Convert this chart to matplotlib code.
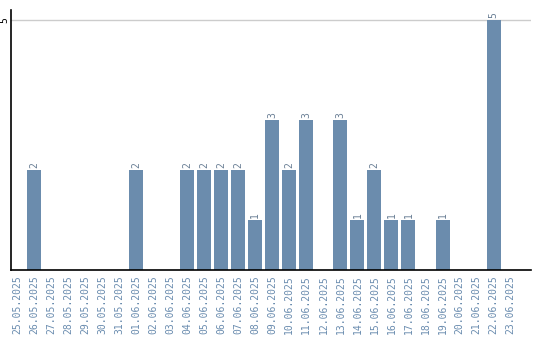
import matplotlib.pyplot as plt
import numpy as np

dates = ["25.05.2025", "26.05.2025", "27.05.2025", "28.05.2025", "29.05.2025",
         "30.05.2025", "31.05.2025", "01.06.2025", "02.06.2025", "03.06.2025",
         "04.06.2025", "05.06.2025", "06.06.2025", "07.06.2025", "08.06.2025",
         "09.06.2025", "10.06.2025", "11.06.2025", "12.06.2025", "13.06.2025",
         "14.06.2025", "15.06.2025", "16.06.2025", "17.06.2025", "18.06.2025",
         "19.06.2025", "20.06.2025", "21.06.2025", "22.06.2025", "23.06.2025"]
counts = [0, 2, 0, 0, 0, 0, 0, 2, 0, 0,
          2, 2, 2, 2, 1, 3, 2, 3, 0, 3,
          1, 2, 1, 1, 0, 1, 0, 0, 5, 0]

bar_color = "#6b8cad"
label_color = "#6a8caf"

fig = plt.figure(figsize=(5.4, 3.4), dpi=100)
ax = fig.add_axes([0.0204, 0.206, 0.963, 0.765])

x = np.arange(len(dates))
ax.bar(x, counts, width=0.82, color=bar_color, zorder=2)

for xi, v in zip(x, counts):
    if v > 0:
        ax.text(xi, v + 0.04, str(v), rotation=90, ha="center", va="bottom",
                fontsize=7, family="DejaVu Sans Mono", color="#6a7f95")

ax.set_xlim(-0.35, 30.2)
ax.set_ylim(0, 5.2)
ax.set_xticks(x)
ax.set_xticklabels(dates, rotation=90, fontsize=7, family="DejaVu Sans Mono",
                   color=label_color)
ax.tick_params(axis="x", length=0, pad=4)
ax.set_yticks([5])
ax.set_yticklabels(["5"], rotation=90, fontsize=7, family="DejaVu Sans Mono",
                   va="center")
ax.tick_params(axis="y", length=0, pad=1)
ax.yaxis.grid(True, color="#cccccc", linewidth=1, zorder=0)
ax.spines["top"].set_visible(False)
ax.spines["right"].set_visible(False)
ax.spines["left"].set_linewidth(1.2)
ax.spines["bottom"].set_linewidth(1.2)

fig.savefig("out.png", dpi=100)
